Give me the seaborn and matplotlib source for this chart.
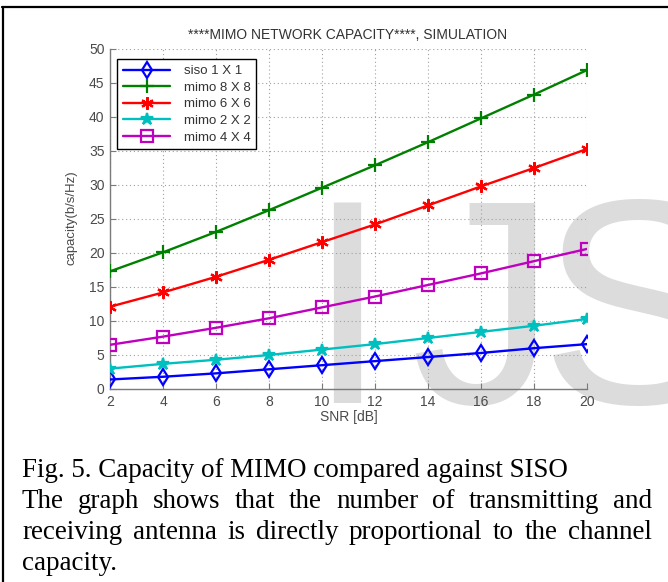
import numpy as np
import pandas as pd
import matplotlib
matplotlib.use("Agg")
import matplotlib.pyplot as plt
import seaborn as sns
from matplotlib.lines import Line2D
from matplotlib.transforms import IdentityTransform

# ---------------- data ----------------
snr_db = [2, 4, 6, 8, 10, 12, 14, 16, 18, 20]
siso_1x1 = [1.4, 1.8, 2.3, 2.9, 3.5, 4.1, 4.7, 5.3, 6.0, 6.6]
mimo_8x8 = [17.3, 20.1, 23.1, 26.3, 29.6, 32.9, 36.3, 39.8, 43.3, 46.9]
mimo_6x6 = [12.1, 14.2, 16.5, 19.0, 21.6, 24.2, 27.0, 29.8, 32.5, 35.3]
mimo_2x2 = [3.0, 3.7, 4.3, 5.0, 5.8, 6.6, 7.5, 8.4, 9.3, 10.3]
mimo_4x4 = [6.5, 7.7, 9.0, 10.4, 12.0, 13.6, 15.3, 17.0, 18.8, 20.6]
series_names = ["siso 1 X 1", "mimo 8 X 8", "mimo 6 X 6", "mimo 2 X 2", "mimo 4 X 4"]
x_ticks = [2, 4, 6, 8, 10, 12, 14, 16, 18, 20]
y_ticks = [0, 5, 10, 15, 20, 25, 30, 35, 40, 45, 50]

title_text = "****MIMO NETWORK CAPACITY****, SIMULATION"
x_label = "SNR [dB]"
y_label = "capacity(b/s/Hz)"
caption_lines = [
    "Fig. 5. Capacity of MIMO compared against SISO",
    "The graph shows that the number of transmitting and",
    "receiving antenna is directly proportional to the channel",
    "capacity.",
]
watermark_letters = ["I", "J", "S"]

# ---------------- styling ----------------
sns.set_theme(style="white")
plt.rcParams["font.family"] = ["Liberation Sans", "DejaVu Sans"]

W, H = 668, 582
fig = plt.figure(figsize=(W / 100, H / 100), dpi=100)
fig.patch.set_facecolor("white")

# watermark behind everything (letters placed one by one, as in the scan)
for letter, xpos in zip(watermark_letters, [306, 410, 540]):
    fig.text(xpos, H - 403, letter, transform=IdentityTransform(), fontsize=210,
             color="#dcdcdc", ha="left", va="baseline", zorder=-5,
             family="Liberation Sans")

ax_l, ax_r, ax_t, ax_b = 110, 587, 49, 389
ax = fig.add_axes([ax_l / W, 1 - ax_b / H, (ax_r - ax_l) / W, (ax_b - ax_t) / H])
ax.set_facecolor("none")

styles = [
    dict(color=(0, 0, 1), marker="d", markerfacecolor="none", markersize=8),
    dict(color=(0, 0.5, 0), marker="+", markerfacecolor=(0, 0.5, 0), markersize=10),
    dict(color=(1, 0, 0), marker=(6, 2, 0), markerfacecolor=(1, 0, 0), markersize=9),
    dict(color=(0, 0.75, 0.75), marker="*", markerfacecolor=(0, 0.75, 0.75), markersize=9),
    dict(color=(0.75, 0, 0.75), marker="s", markerfacecolor="none", markersize=8),
]
all_vals = [siso_1x1, mimo_8x8, mimo_6x6, mimo_2x2, mimo_4x4]

for name, vals, st in zip(series_names, all_vals, styles):
    df = pd.DataFrame({"snr": snr_db, "cap": vals})
    sns.lineplot(data=df, x="snr", y="cap", ax=ax, label=name,
                 color=st["color"], marker=st["marker"],
                 markersize=st["markersize"],
                 markerfacecolor=st["markerfacecolor"],
                 markeredgecolor=st["color"], markeredgewidth=1.6,
                 linewidth=1.7, zorder=3)

ax.set_xlim(2, 20)
ax.set_ylim(0, 50)
ax.set_xticks(x_ticks)
ax.set_yticks(y_ticks)
ax.grid(True, linestyle=(0, (1, 2.5)), color="#a0a0a0", linewidth=0.8)
for s in ["top", "right"]:
    ax.spines[s].set_visible(False)
for s in ["left", "bottom"]:
    ax.spines[s].set_color("#7a7a7a")
    ax.spines[s].set_linewidth(1.0)
ax.tick_params(direction="in", length=4, width=0.8, color="#7a7a7a",
               labelcolor="#4a4a4a", labelsize=10, pad=4,
               bottom=True, left=True)
ax.set_xlabel(x_label, fontsize=10, color="#4a4a4a", labelpad=1)
ax.set_ylabel(y_label, fontsize=9.5, color="#4a4a4a", labelpad=5)
ax.yaxis.set_label_coords(-(ax_l - 78) / (ax_r - ax_l), (ax_b - 218) / (ax_b - ax_t))

leg = ax.legend(loc="upper left",
                bbox_to_anchor=((117 - ax_l) / (ax_r - ax_l), (ax_b - 59) / (ax_b - ax_t)),
                frameon=True, fancybox=False, framealpha=1, edgecolor="black",
                fontsize=9.5, handlelength=3.6, handletextpad=1.0,
                labelspacing=0.33, borderpad=0.45, borderaxespad=0)
leg.get_frame().set_linewidth(1.0)
for t in leg.get_texts():
    t.set_color("#333333")

fig.text(348 / W, 1 - 35 / H, title_text, ha="center", va="center",
         fontsize=10, color="#333333")

# ---------------- border of the snippet ----------------
fig.add_artist(Line2D([2, W], [H - 7, H - 7], transform=IdentityTransform(),
                      color="black", linewidth=1.6))
fig.add_artist(Line2D([3, 3], [0, H - 7], transform=IdentityTransform(),
                      color="black", linewidth=1.6))

# ---------------- caption (justified) ----------------
renderer = fig.canvas.get_renderer()
cap_font = "Liberation Serif"
probe = fig.text(0, 0, caption_lines[0], fontsize=20, family=cap_font,
                 transform=IdentityTransform())
w0 = probe.get_window_extent(renderer).width
probe.remove()
cap_fs = 20 * 548 / w0

x0, x1 = 22, 652
baselines = [477, 508, 539, 570]
justify = [False, True, True, False]
for line, yb, jus in zip(caption_lines, baselines, justify):
    y = H - yb
    if not jus:
        fig.text(x0, y, line, fontsize=cap_fs, family=cap_font, color="black",
                 transform=IdentityTransform(), va="baseline", ha="left")
        continue
    words = line.split(" ")
    widths = []
    for wd in words:
        t = fig.text(0, 0, wd, fontsize=cap_fs, family=cap_font, transform=IdentityTransform())
        widths.append(t.get_window_extent(renderer).width)
        t.remove()
    gap = (x1 - x0 - sum(widths)) / (len(words) - 1)
    x = x0
    for wd, wdt in zip(words, widths):
        fig.text(x, y, wd, fontsize=cap_fs, family=cap_font, color="black",
                 transform=IdentityTransform(), va="baseline", ha="left")
        x += wdt + gap

fig.savefig("out.png", dpi=100)
